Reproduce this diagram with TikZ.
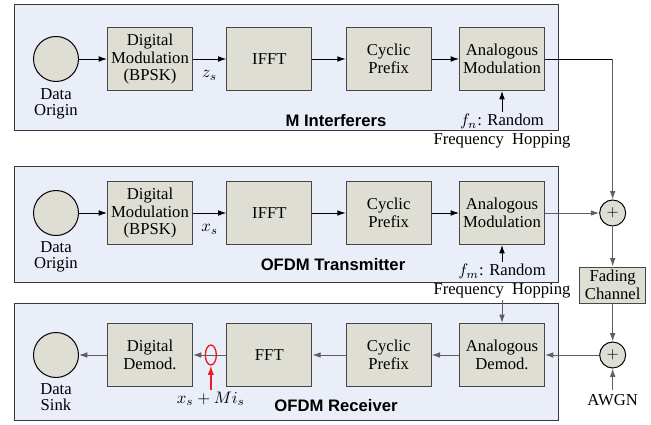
\documentclass[tikz,border=0pt]{standalone}
\usepackage{fontspec}
\setmainfont{Liberation Serif}
\setsansfont{Liberation Sans}
\usepackage{amsmath}
\usepackage{tikz}
\usetikzlibrary{arrows.meta, positioning, shapes.geometric}
\definecolor{panelbg}{RGB}{233,238,248}
\definecolor{panelborder}{RGB}{55,55,60}
\definecolor{blockbg}{RGB}{222,222,212}
\definecolor{blockborder}{RGB}{70,70,70}
\definecolor{wiregray}{RGB}{95,95,95}
\definecolor{markred}{RGB}{235,30,35}
\tikzset{
  panel/.style={
    draw=panelborder, fill=panelbg, line width=0.6pt
  },
  blockbox/.style={
    draw=blockborder, fill=blockbg, line width=0.6pt,
    minimum width=51pt, minimum height=37.8pt,
    inner sep=1pt, align=center,
    font=\fontsize{10}{10.5}\selectfont
  },
  chanbox/.style={
    draw=blockborder, fill=blockbg, line width=0.6pt,
    minimum width=39.6pt, minimum height=21.6pt,
    inner sep=1pt, align=center,
    font=\fontsize{10}{10.6}\selectfont
  },
  srcnode/.style={
    circle, draw=black, fill=blockbg, line width=0.6pt,
    minimum size=27pt, inner sep=0pt
  },
  sumnode/.style={
    circle, draw=black, fill=blockbg, line width=0.6pt,
    minimum size=15.6pt, inner sep=0pt, font=\small
  },
  redring/.style={
    ellipse, draw=markred, line width=0.8pt,
    minimum width=6.6pt, minimum height=12pt, inner sep=0pt
  },
  sublabel/.style={
    align=center, inner sep=1pt,
    font=\fontsize{10}{9.6}\selectfont
  },
  hoplabel/.style={
    align=center, inner sep=1pt,
    font=\fontsize{10}{11.5}\selectfont
  },
  paneltitle/.style={
    font=\sffamily\bfseries\fontsize{10}{12}\selectfont
  },
  txarrow/.style={
    -{Latex[length=5pt,width=3.4pt]},
    draw=black, line width=0.5pt
  },
  rxarrow/.style={
    -{Latex[length=5pt,width=3.4pt]},
    draw=wiregray, line width=0.6pt
  },
  redarrow/.style={
    -{Latex[length=5.5pt,width=3.8pt]},
    draw=markred, line width=0.8pt
  },
}
\begin{document}
\begin{tikzpicture}[x=0.6pt, y=-0.6pt, node distance=20pt]

  \useasboundingbox (0,0) rectangle (651,424);

  %% Panels
  \draw[panel] (14,5) rectangle (558,131);
  \draw[panel] (14,166) rectangle (558,282);
  \draw[panel] (14,303) rectangle (558,420);

  \node[paneltitle] (title1) at (336,121) {M Interferers};
  \node[paneltitle] (title2) at (333,265) {OFDM Transmitter};
  \node[paneltitle] (title3) at (336,406) {OFDM Receiver};

  %% M Interferers
  \node[srcnode] (orig1) at (56,59) {};
  \node[sublabel, below=3pt of orig1] (origlbl1) {Data\\Origin};
  \node[blockbox, right=16.8pt of orig1] (dmod1)
    {Digital\\Modulation\\(BPSK)};
  \node[blockbox, right=of dmod1] (ifft1) {IFFT};
  \node[blockbox, right=of ifft1] (cp1) {Cyclic\\Prefix};
  \node[blockbox, right=16.4pt of cp1] (amod1) {Analogous\\Modulation};
  \node[hoplabel, below=12.6pt of amod1] (hop1)
    {$f_n$: Random\\Frequency\ \ Hopping};

  \draw[txarrow] (orig1) -- (dmod1);
  \draw[txarrow] (dmod1) -- node[below=3.5pt] {$z_s$} (ifft1);
  \draw[txarrow] (ifft1) -- (cp1);
  \draw[txarrow] (cp1) -- (amod1);
  \draw[txarrow] (hop1) -- (amod1);

  %% OFDM Transmitter
  \node[srcnode] (orig2) at (56,213) {};
  \node[sublabel, below=2pt of orig2] (origlbl2) {Data\\Origin};
  \node[blockbox, right=16.8pt of orig2] (dmod2)
    {Digital\\Modulation\\(BPSK)};
  \node[blockbox, right=of dmod2] (ifft2) {IFFT};
  \node[blockbox, right=of ifft2] (cp2) {Cyclic\\Prefix};
  \node[blockbox, right=16.4pt of cp2] (amod2) {Analogous\\Modulation};
  \node[hoplabel, below=10.2pt of amod2] (hop2)
    {$f_m$: Random\\Frequency\ \ Hopping};

  \draw[txarrow] (orig2) -- (dmod2);
  \draw[txarrow] (dmod2) -- node[below=3.5pt] {$x_s$} (ifft2);
  \draw[txarrow] (ifft2) -- (cp2);
  \draw[txarrow] (cp2) -- (amod2);
  \draw[txarrow] (hop2) -- (amod2);

  %% Channel
  \node[sumnode, right=32.5pt of amod2] (sum1) {$+$};
  \node[chanbox, below=24pt of sum1] (chan) {Fading\\Channel};
  \coordinate (corner1) at (amod1.east -| sum1);

  \draw[line width=0.5pt] (amod1.east) -- (corner1);
  \draw[rxarrow] (corner1) -- (sum1.north);
  \draw[rxarrow] (amod2) -- (sum1);
  \draw[rxarrow] (sum1) -- (chan);

  %% OFDM Receiver
  \node[srcnode] (sink3) at (56,355) {};
  \node[sublabel, below=2pt of sink3] (sinklbl3) {Data\\Sink};
  \node[blockbox, right=16.8pt of sink3] (dem3) {Digital\\Demod.};
  \node[blockbox, right=of dem3] (fft3) {FFT};
  \node[blockbox, right=of fft3] (cp3) {Cyclic\\Prefix};
  \node[blockbox, right=16.4pt of cp3] (ademod3) {Analogous\\Demod.};
  \node[sumnode, right=32.5pt of ademod3] (sum2) {$+$};
  \node[sublabel, inner sep=3pt, below=12.6pt of sum2] (awgn) {AWGN};

  \draw[rxarrow] (chan) -- (sum2);
  \draw[rxarrow] (awgn) -- (sum2);
  \draw[rxarrow] (sum2) -- (ademod3);
  \draw[rxarrow] (hop2) -- (ademod3);
  \draw[rxarrow] (ademod3) -- (cp3);
  \draw[rxarrow] (cp3) -- (fft3);
  \draw[rxarrow] (fft3) -- (dem3);
  \draw[rxarrow] (dem3) -- (sink3);

  %% Observation point
  \node[redring, right=7pt of dem3] (tap) {};
  \node[sublabel, below=14.4pt of tap] (taplbl) {$x_s+Mi_s$};
  \draw[redarrow] (taplbl) -- (tap);

\end{tikzpicture}
\end{document}
